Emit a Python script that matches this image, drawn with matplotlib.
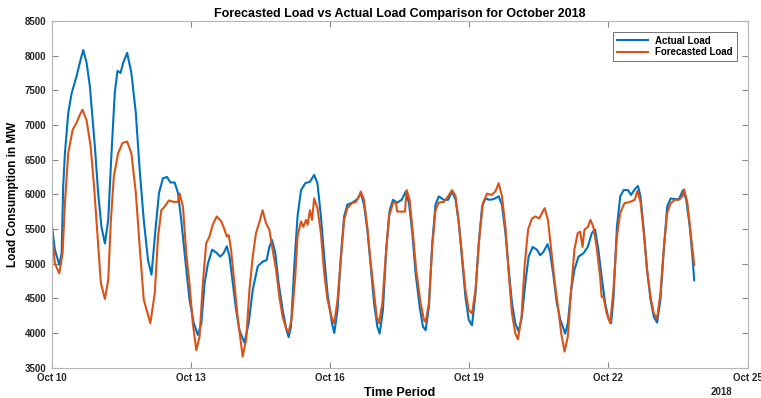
import numpy as np
import matplotlib.pyplot as plt
import matplotlib.dates as mdates
import pandas as pd

plt.rcParams['font.family'] = ['Liberation Sans', 'DejaVu Sans']

# hours after Oct 10 2018 00:00, and load in MW
actual_hours = [0, 1.5, 3.8, 5.0, 5.8, 6.7, 8.4, 10.2, 12.7, 14.8, 16.2, 17.9, 19.6, 22.2, 23.9,
                25.6, 27.4, 29.1, 30.8, 32.5, 33.9, 35.5, 36.8, 38.9, 41.1, 43.4, 45.4, 47.5, 49.7,
                51.5, 53.7, 55.4, 57.4, 59.5, 61.3, 63.5, 65.2, 66.9, 69.2, 71.2, 73.3, 75.5, 77.3,
                79.0, 80.7, 82.9, 85.0, 87.1, 88.8, 90.5, 91.9, 93.6, 95.3, 97.0, 99.6, 101.8, 103.9,
                106.5, 109.1, 111.1, 112.5, 113.9, 115.6, 117.3, 119.4, 121.4, 122.5, 123.7, 125.4,
                127.1, 128.9, 131.1, 133.5, 135.7, 137.4, 139.2, 140.9, 142.6, 144.9, 146.1, 147.8,
                149.5, 151.2, 152.9, 155.5, 158.1, 159.8, 161.5, 163.2, 165.0, 166.7, 168.4, 169.6,
                171.3, 173.0, 174.8, 176.5, 178.7, 181.0, 183.1, 184.8, 186.5, 188.2, 190.3, 192.0,
                193.4, 195.1, 196.8, 198.5, 200.2, 202.8, 205.0, 207.1, 208.9, 210.6, 212.3, 214.0,
                215.7, 217.4, 219.2, 220.9, 222.6, 224.3, 226.4, 228.6, 231.2, 232.9, 234.7, 236.4,
                238.1, 239.8, 241.5, 243.2, 245.0, 246.7, 248.8, 251.0, 252.7, 254.4, 256.5, 257.9,
                259.6, 261.3, 263.1, 264.4, 265.6, 267.0, 268.7, 270.4, 272.5, 275.1, 277.3, 279.4,
                281.1, 282.8, 284.5, 286.3, 288.0, 289.4, 290.6, 292.4, 294.1, 295.9, 298.1, 299.7,
                301.6, 303.3, 304.6, 306.3, 308.0, 309.8, 311.5, 313.2, 314.9, 316.7, 318.4, 320.2,
                322.4, 324.5, 326.6, 328.3, 330.1, 331.5, 332.4]
actual_load = [5540, 5200, 4980, 5150, 6110, 6590, 7170, 7460, 7700, 7940, 8080, 7900, 7560, 6690, 6020,
               5530, 5290, 5630, 6590, 7460, 7780, 7750, 7890, 8040, 7750, 7170, 6350, 5630, 5050,
               4840, 5530, 6020, 6230, 6250, 6170, 6170, 6020, 5630, 5000, 4480, 4150, 3970, 4140,
               4720, 5000, 5200, 5160, 5100, 5150, 5250, 5100, 4720, 4330, 4040, 3860, 4140, 4620,
               4960, 5030, 5050, 5240, 5340, 5150, 4720, 4330, 4040, 3940, 4090, 4960,
               5680, 6060, 6160, 6180, 6280, 6160, 5680, 5100, 4570, 4140, 4000, 4330,
               5100, 5680, 5850, 5880, 5930, 6020, 5850, 5490, 4960, 4430, 4090, 3990,
               4330, 5200, 5770, 5920, 5880, 5920, 6040, 5870, 5440, 4860, 4380, 4090,
               4040, 4380, 5290, 5850, 5970, 5920, 5920, 6040, 5920, 5580, 5050, 4520,
               4190, 4110, 4570, 5290, 5820, 5940, 5920, 5930, 5970, 5850, 5440, 4910,
               4430, 4140, 4020, 4230, 4720, 5100, 5240, 5200, 5120, 5170, 5280, 5150,
               4810, 4430, 4190, 4090, 3990, 4140, 4620, 4910, 5100, 5150, 5240, 5440,
               5490, 5200, 4810, 4430, 4210, 4140, 4500, 5530, 5970, 6060, 6060, 5990,
               6070, 6120, 5970, 5490, 4910, 4480, 4230, 4150, 4480, 5200, 5820, 5940,
               5930, 5930, 6060, 5920, 5530, 5100, 4760]

forecast_hours = [0, 1.5, 3.8, 5.5, 6.7, 8.4, 10.7, 12.7, 14.5, 15.8, 17.9, 20.0, 21.8, 23.6,
                  25.3, 27.4, 29.1, 30.5, 32.0, 34.2, 36.5, 38.9, 41.1, 43.4, 45.4, 47.5, 50.9,
                  53.2, 54.9, 56.6, 58.3, 60.5, 63.0, 65.2, 66.1, 67.8, 69.5, 71.2, 72.9, 74.7,
                  76.4, 78.1, 79.8, 81.5, 83.2, 85.3, 87.6, 89.3, 90.5, 91.5, 92.7, 94.4, 96.1,
                  97.4, 98.7, 100.5, 102.2, 103.9, 105.6, 107.7, 109.0, 110.8, 112.5, 114.2, 116.0,
                  117.7, 119.4, 121.1, 122.5, 124.2, 125.9, 127.1, 128.9, 130.1, 131.5, 132.3, 133.5,
                  134.6, 135.7, 137.4, 139.2, 140.9, 142.6, 144.9, 146.1, 147.8, 149.5, 151.2, 152.9,
                  155.2, 157.2, 159.0, 159.8, 161.5, 163.2, 165.0, 166.7, 168.1, 169.3, 171.0, 172.7,
                  174.4, 176.5, 177.9, 178.7, 180.5, 182.7, 183.6, 185.1, 186.8, 188.5, 190.8, 192.5,
                  193.4, 195.1, 196.8, 198.5, 200.2, 202.8, 205.0, 207.1, 208.9, 210.6, 212.3, 214.0,
                  215.7, 217.4, 219.2, 220.9, 223.0, 225.2, 227.5, 229.5, 231.2, 232.9, 234.7, 236.4,
                  238.1, 239.8, 241.2, 243.0, 244.6, 246.4, 248.4, 250.2, 252.2, 253.6, 255.0, 256.7,
                  258.4, 260.1, 261.9, 263.6, 265.3, 267.0, 268.7, 270.4, 272.1, 273.4, 274.6, 275.6,
                  277.4, 278.7, 280.2, 281.9, 283.7, 284.5, 285.4, 287.1, 288.9, 290.6, 292.4, 294.1,
                  296.3, 299.2, 301.6, 303.0, 304.6, 306.3, 308.0, 309.8, 311.5, 313.2, 314.9, 316.7,
                  318.4, 320.2, 322.4, 324.5, 326.3, 327.2, 328.9, 330.6, 332.4]
forecast_load = [5440, 5000, 4860, 5150, 5870, 6590, 6930, 7030, 7150, 7220, 7070, 6690, 6110, 5390,
                 4720, 4490, 4760, 5630, 6250, 6590, 6740, 6760, 6590, 6020, 5240, 4480, 4140,
                 4570, 5390, 5770, 5820, 5910, 5890, 5890, 6010, 5820, 5150, 4700, 4140, 3750,
                 3950, 4720, 5290, 5390, 5560, 5680, 5610, 5490, 5390, 5410, 5200, 4720, 4230,
                 3950, 3660, 3900, 4620, 5100, 5440, 5630, 5770, 5580, 5490, 5200, 4910,
                 4520, 4230, 4070, 4010, 4230, 4810, 5390, 5610, 5530, 5630, 5560, 5770,
                 5630, 5940, 5800, 5440, 4860, 4480, 4210, 4140, 4480, 5050, 5630, 5800,
                 5870, 5890, 5970, 6040, 5920, 5530, 5000, 4570, 4230, 4140, 4430, 5100,
                 5680, 5870, 5890, 5750, 5750, 5750, 6060, 5920, 5440, 4910, 4430, 4190,
                 4160, 4430, 5240, 5770, 5880, 5890, 5970, 6060, 5970, 5580, 5100, 4620,
                 4330, 4280, 4620, 5290, 5870, 6010, 5990, 6040, 6160, 5970, 5530, 4860,
                 4280, 3990, 3910, 4230, 4960, 5490, 5650, 5680, 5650, 5730, 5800, 5630,
                 5200, 4760, 4380, 3990, 3730, 3950, 4620, 5200, 5440, 5460, 5240, 5490,
                 5530, 5630, 5530, 5240, 4810, 4520, 4520, 4280, 4140, 4620, 5390, 5730,
                 5870, 5890, 5920, 6050, 5890, 5440, 4910, 4520, 4280, 4210, 4570, 5240,
                 5730, 5870, 5920, 5920, 5970, 6070, 5870, 5440, 4980]

start = pd.Timestamp('2018-10-10')
t_actual = start + pd.to_timedelta(actual_hours, unit='h')
t_forecast = start + pd.to_timedelta(forecast_hours, unit='h')

fig = plt.figure(figsize=(7.61, 3.98), dpi=100)
ax = fig.add_axes([0.0683, 0.0764, 0.914, 0.871])

ax.plot(t_actual, actual_load, color='#0072BD', lw=1.5, label='Actual Load')
ax.plot(t_forecast, forecast_load, color='#D95319', lw=1.5, label='Forecasted Load')

ax.set_xlim(pd.Timestamp('2018-10-10'), pd.Timestamp('2018-10-25'))
ax.set_ylim(3500, 8500)
ax.set_yticks(np.arange(3500, 8501, 500))
ax.xaxis.set_major_locator(mdates.DayLocator(bymonthday=[10, 13, 16, 19, 22, 25]))
ax.xaxis.set_major_formatter(mdates.DateFormatter('%b %d'))

ax.tick_params(direction='in', length=4, width=0.8, color='#8a8a8a',
               top=True, right=True, labelsize=7, labelcolor='#262626', pad=4)
for lbl in ax.get_xticklabels() + ax.get_yticklabels():
    lbl.set_fontweight('bold')
for s in ax.spines.values():
    s.set_color('#b5b5b5')
    s.set_linewidth(0.8)

ax.set_title('Forecasted Load vs Actual Load Comparison for October 2018',
             fontsize=9, fontweight='bold', pad=3)
ax.set_xlabel('Time Period', fontsize=9, fontweight='bold', labelpad=3)
ax.set_ylabel('Load Consumption in MW', fontsize=8.5, fontweight='bold', labelpad=4)
fig.text(0.948, 0.008, '2018', fontsize=7, fontweight='bold', color='#262626', ha='center')

leg = ax.legend(loc='upper right', frameon=True, fancybox=False,
                handlelength=3.2, borderaxespad=1.1, labelspacing=0.2,
                prop={'weight': 'bold', 'size': 7})
leg.get_frame().set_edgecolor('#333333')
leg.get_frame().set_linewidth(0.6)

plt.savefig('out.png', dpi=100)
